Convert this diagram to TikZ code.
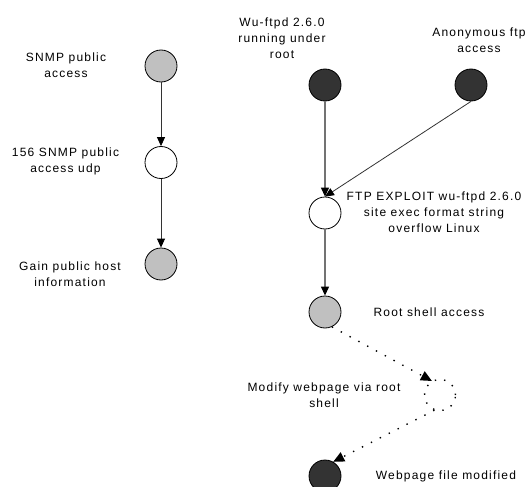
\documentclass[tikz,border=0pt]{standalone}
\usepackage{fontspec}
\setmainfont{Liberation Sans}[LetterSpace=10]
\usepackage{tikz}
\usetikzlibrary{arrows.meta, positioning}
\definecolor{statelight}{RGB}{192,192,192}
\definecolor{statedark}{RGB}{51,51,51}
\tikzstyle{state} = [circle, draw=black, line width=0.8pt, minimum size=32pt, inner sep=0pt]
\tikzstyle{lightstate} = [state, fill=statelight]
\tikzstyle{darkstate} = [state, fill=statedark]
\tikzstyle{exploit} = [state, fill=white]
\tikzstyle{action} = [circle, draw=black, line width=1.4pt, dash pattern=on 1.4pt off 8pt, minimum size=31pt, inner sep=0pt]
\tikzstyle{txt} = [align=center, inner sep=0pt, font=\fontsize{12pt}{16pt}\selectfont]
\tikzstyle{arrow} = [line width=0.8pt, draw=black!80, -{Triangle[length=9pt,width=8pt,color=black]}]
\tikzstyle{grayarrow} = [arrow, line width=1.1pt, draw=black!55]
\tikzstyle{dotarrow} = [line width=1.4pt, dash pattern=on 1.4pt off 8.6pt, -{Triangle[length=11pt,width=10pt,color=black]}]

\begin{document}
\begin{tikzpicture}[x=1pt, y=-1pt]
    \useasboundingbox (0,0) rectangle (528,487);

    \node[lightstate] (snmp) at (161,66) {};
    \node[exploit] (udp) at (161,162.5) {};
    \node[lightstate] (gain) at (161,264) {};
    \node[darkstate] (wu) at (325,85) {};
    \node[darkstate] (anon) at (471,85) {};
    \node[exploit] (ftp) at (325,213) {};
    \node[lightstate] (root) at (325,312) {};
    \node[action] (modify) at (440,395) {};
    \node[darkstate] (web) at (325,476) {};

    \node[txt] (snmpL) at (66,65) {SNMP public\\access};
    \node[txt] (udpL) at (65.5,161) {156 SNMP public\\access udp};
    \node[txt] (gainL) at (70,274) {Gain public host\\information};
    \node[txt] (wuL) at (282,38) {Wu-ftpd 2.6.0\\running under\\root};
    \node[txt] (anonL) at (479,40) {Anonymous ftp\\access};
    \node[txt] (ftpL) at (434,212.5) {FTP EXPLOIT wu-ftpd 2.6.0\\site exec format string\\overflow Linux};
    \node[txt] (rootL) at (429,312) {Root shell access};
    \node[txt] (modifyL) at (324,395) {Modify webpage via root\\shell};
    \node[txt] (webL) at (446,476) {Webpage file modified};

    \draw[arrow] (snmp) -- (udp);
    \draw[arrow] (udp) -- (gain);
    \draw[grayarrow] (wu) -- (ftp);
    \draw[arrow] (anon.south) -- (ftp.north);
    \draw[grayarrow] (ftp) -- (root);
    \draw[dotarrow] (root.-65) -- (modify.120);
    \draw[dotarrow] (modify.250) -- (web.60);
\end{tikzpicture}
\end{document}
